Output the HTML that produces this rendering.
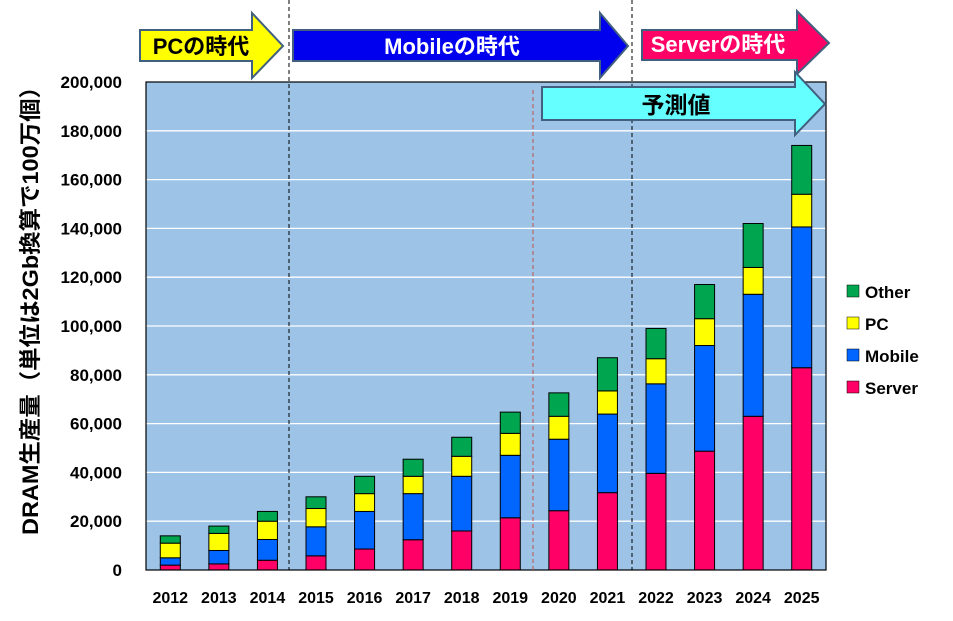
<!DOCTYPE html>
<html><head><meta charset="utf-8"><style>
body{margin:0;background:#fff;}
svg text{font-family:"Liberation Sans","Noto Sans CJK JP",sans-serif;font-weight:bold;}
</style></head><body>
<svg width="953" height="616" xmlns="http://www.w3.org/2000/svg">
<rect x="146" y="82" width="680" height="488" fill="#9dc3e6"/>
<g id="grid"></g>
<g id="bars"></g>
<rect x="146" y="82" width="680" height="488" fill="none" stroke="#000" stroke-width="1.2"/>
<line x1="289" y1="0" x2="289" y2="570" stroke="#000" stroke-dasharray="4,3"/>
<line x1="632" y1="0" x2="632" y2="570" stroke="#000" stroke-dasharray="4,3"/>
<line x1="533" y1="90" x2="533" y2="570" stroke="#c0504d" stroke-dasharray="4,3"/>
<g id="yticks"></g><g id="xticks"></g>
<polygon points="140,30 252,30 252,13 283,46 252,78 252,61 140,61" fill="#ffff00" stroke="#41607f" stroke-width="2"/>
<text x="201" y="54" font-size="22" text-anchor="middle" fill="#000">PCの時代</text>
<polygon points="293,30 600,30 600,13 628,46 600,78 600,61 293,61" fill="#0000ee" stroke="#41607f" stroke-width="2"/>
<text x="452" y="54" font-size="22" text-anchor="middle" fill="#fff">Mobileの時代</text>
<polygon points="642,30 797,30 797,11 829,43 797,74 797,60 642,60" fill="#ff0066" stroke="#41607f" stroke-width="2"/>
<text x="718" y="52" font-size="22" text-anchor="middle" fill="#fff">Serverの時代</text>
<polygon points="542,87 795,87 795,72 825,104 795,135 795,120 542,120" fill="#66ffff" stroke="#41607f" stroke-width="2"/>
<text x="676" y="113" font-size="23" text-anchor="middle" fill="#000">予測値</text>
<text transform="translate(38,305) rotate(-90)" font-size="22" text-anchor="middle" fill="#000" textLength="460" lengthAdjust="spacingAndGlyphs">DRAM生産量（単位は2Gb換算で100万個）</text>
<g font-size="17">
<rect x="847" y="285" width="12" height="12" fill="#00a550" stroke="#000" stroke-width="0.5"/>
<text x="865" y="298">Other</text>
<rect x="847" y="317" width="12" height="12" fill="#ffff00" stroke="#000" stroke-width="0.5"/>
<text x="865" y="330">PC</text>
<rect x="847" y="349" width="12" height="12" fill="#0066ff" stroke="#000" stroke-width="0.5"/>
<text x="865" y="362">Mobile</text>
<rect x="847" y="381" width="12" height="12" fill="#ff0066" stroke="#000" stroke-width="0.5"/>
<text x="865" y="394">Server</text>
</g>
</svg>
<script>
const years=["2012","2013","2014","2015","2016","2017","2018","2019","2020","2021","2022","2023","2024","2025"];
const server=[2,2.5,4,5.8,8.6,12.4,16,21.4,24.3,31.7,39.6,48.7,63,82.9];
const mobile=[3,5.5,8.5,11.9,15.4,18.9,22.4,25.6,29.3,32.2,36.7,43.3,50,57.7];
const pc=[6,7,7.5,7.5,7.3,7.1,8.2,9,9.4,9.5,10.3,11,11,13.4];
const other=[3,3,4,4.8,7.1,7,7.8,8.7,9.6,13.6,12.4,14,18,20];
const yTicks=[0,20000,40000,60000,80000,100000,120000,140000,160000,180000,200000];
const NS="http://www.w3.org/2000/svg";
const x0=146,x1=826,yb=570,yt=82;
function yS(v){return yb-(v/200000)*(yb-yt);}
function xC(i){return x0+(i+0.5)*(x1-x0)/years.length;}
function mk(t,a,p){const e=document.createElementNS(NS,t);for(const k in a)e.setAttribute(k,a[k]);p.appendChild(e);return e;}
const grid=document.getElementById('grid'),yt_=document.getElementById('yticks'),xt=document.getElementById('xticks'),bars=document.getElementById('bars');
yTicks.forEach(v=>{
 if(v>0&&v<200000){const l=mk('line',{x1:x0,x2:x1,y1:yS(v),y2:yS(v),stroke:'#fff','stroke-width':1.3},grid);
 
 }
 const t=mk('text',{x:122,y:yS(v)+6,'font-size':17,'text-anchor':'end'},yt_);
 t.textContent=v.toLocaleString('en-US');
 
 
});
const series=[[server,'#ff0066','server'],[mobile,'#0066ff','mobile'],[pc,'#ffff00','pc'],[other,'#00a550','other']];
years.forEach((y,i)=>{
 let acc=0;const cx=xC(i),w=20;
 series.forEach(([arr,c,n])=>{
  const v=arr[i]*1000;const top=yS(acc+v),bot=yS(acc);
  const r=mk('rect',{x:cx-w/2,y:top,width:w,height:bot-top,fill:c,stroke:'#000','stroke-width':1},bars);
  
  
  acc+=v;
 });
 const t=mk('text',{x:cx,y:603,'font-size':16,'text-anchor':'middle'},xt);
 t.textContent=y;
 
 
});
</script>
</body></html>
